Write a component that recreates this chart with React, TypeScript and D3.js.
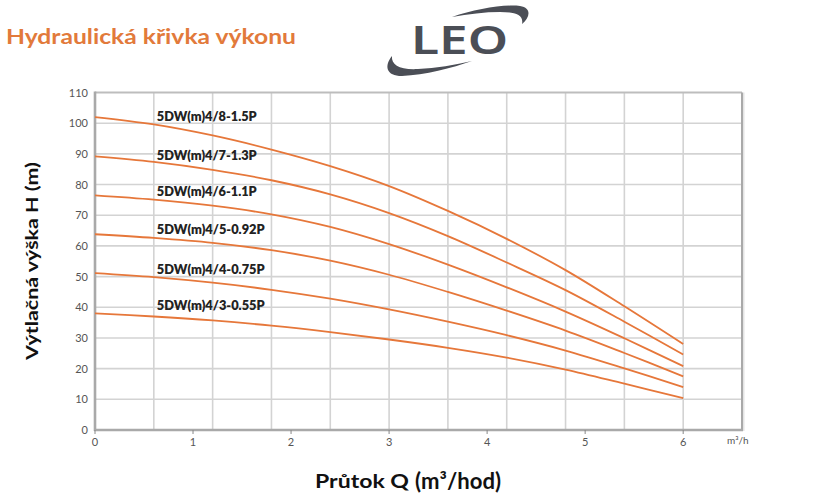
import React from "react";
import * as d3 from "d3";

const flowQ = [0, 0.6, 1.2, 1.8, 2.4, 3.0, 3.6, 4.2, 4.8, 5.4, 6.0];
const series = [
  { name: "5DW(m)4/8-1.5P", labelH: 102.3, values: [102, 99.6, 96, 91.4, 86, 79.5, 71.4, 62.3, 52.1, 40.3, 28] },
  { name: "5DW(m)4/7-1.3P", labelH: 89.6, values: [89.2, 87.4, 84.8, 81.4, 76.8, 70.7, 63.2, 54.6, 45.6, 35.3, 24.6] },
  { name: "5DW(m)4/6-1.1P", labelH: 77.7, values: [76.5, 75.1, 73.1, 70.3, 66.2, 60.6, 53.9, 46.5, 38.6, 29.9, 20.8] },
  { name: "5DW(m)4/5-0.92P", labelH: 65.2, values: [63.8, 62.6, 61.0, 58.6, 55.2, 50.6, 45.0, 38.9, 32.4, 25.1, 17.5] },
  { name: "5DW(m)4/4-0.75P", labelH: 52.4, values: [51.1, 49.8, 48.0, 45.7, 42.8, 39.3, 35.3, 30.9, 25.9, 20.1, 14] },
  { name: "5DW(m)4/3-0.55P", labelH: 40.5, values: [38, 37, 35.7, 34, 31.9, 29.5, 26.8, 23.6, 19.7, 15.1, 10.4] },
];
const xTicks = [0, 1, 2, 3, 4, 5, 6];
const yTicks = [0, 10, 20, 30, 40, 50, 60, 70, 80, 90, 100, 110];
const xGrid = [0.6, 1.2, 1.8, 2.4, 3.0, 3.6, 4.2, 4.8, 5.4, 6.0];
const yGrid = [10, 20, 30, 40, 50, 60, 70, 80, 90, 100];
const labelQ = 0.63;

const title = "Hydraulická křivka výkonu";
const yTitle = "Výtlačná výška H (m)";
const xTitleA = "Průtok Q";
const xTitleB = "(m³/hod)";
const unitLabel = "m³/h";

const ORANGE = "#e6773a";
const FONT = "Lato, 'Noto Sans', sans-serif";

export default function App() {
  const W = 835, H = 504;
  const x = d3.scaleLinear().domain([0, 6.6]).range([95, 742]);
  const y = d3.scaleLinear().domain([0, 110]).range([430, 92.5]);
  const line = d3
    .line<number>()
    .x((_, i) => x(flowQ[i]))
    .y((d) => y(d))
    .curve(d3.curveCatmullRom.alpha(0.5));

  return (
    <svg width={W} height={H} style={{ position: "absolute", left: 0, top: 0, background: "#fff" }} fontFamily={FONT}>
      <rect x={0} y={0} width={W} height={H} fill="#fff" />
      {/* title */}
      <text x={6} y={43.5} fontSize={21} fontWeight={700} fill="#e27a3b" textLength={290} lengthAdjust="spacingAndGlyphs">
        {title}
      </text>
      {/* logo */}
      <g fill="#4b4e56">
        <path d="M452,17 C475,9 505,4 520,6 C532,8 530,17 522,24 C524,15 515,12 500,12 C485,12 468,14 452,17 Z" />
        <path d="M472,61 C452,68 425,75 402,76 C386,76 384,66 392,56 C391,65 400,70 418,69 C436,68 455,65 472,61 Z" />
        <text x={411} y={54} fontSize={39} fontWeight={600} fontFamily="'Noto Sans', sans-serif" textLength={97} lengthAdjust="spacingAndGlyphs">
          LEO
        </text>
      </g>

      {/* grid */}
      {xGrid.map((g) => (
        <line key={"xg" + g} x1={x(g)} x2={x(g)} y1={y(0)} y2={y(110)} stroke="#d3d3d3" strokeWidth={1.6} />
      ))}
      {yGrid.map((g) => (
        <line key={"yg" + g} x1={x(0)} x2={x(6.6)} y1={y(g)} y2={y(g)} stroke="#d3d3d3" strokeWidth={1.6} />
      ))}
      {/* borders */}
      <line x1={x(0)} x2={x(6.6)} y1={y(110)} y2={y(110)} stroke="#bdbdbd" strokeWidth={2} />
      <line x1={x(6.6) + 1.5} x2={x(6.6) + 1.5} y1={y(110)} y2={y(0) + 1} stroke="#e4e4e4" strokeWidth={2} />
      <line x1={x(6.6)} x2={x(6.6)} y1={y(110)} y2={y(0)} stroke="#a9a9a9" strokeWidth={2} />
      <line x1={x(0)} x2={x(0)} y1={y(110) - 1} y2={y(0) + 1} stroke="#a9a9a9" strokeWidth={2.6} />
      <line x1={x(0) - 1} x2={x(6.6) + 1} y1={y(0)} y2={y(0)} stroke="#a9a9a9" strokeWidth={2.6} />

      {/* ticks */}
      {xTicks.map((t) => (
        <g key={"xt" + t}>
          <line x1={x(t)} x2={x(t)} y1={y(0)} y2={y(0) + 4} stroke="#888" strokeWidth={1} />
          <text x={x(t)} y={446} fontSize={11} fill="#555" textAnchor="middle">
            {t}
          </text>
        </g>
      ))}
      {yTicks.map((t) => (
        <text key={"yt" + t} x={88} y={y(t) + 4} fontSize={11} fill="#555" textAnchor="end">
          {t}
        </text>
      ))}
      <text x={727} y={444} fontSize={10} fill="#555">
        {unitLabel}
      </text>

      {/* curves */}
      {series.map((s) => (
        <path key={s.name} d={line(s.values) || ""} fill="none" stroke={ORANGE} strokeWidth={1.8} />
      ))}
      {series.map((s) => (
        <text
          key={"l" + s.name}
          x={x(labelQ)}
          y={y(s.labelH) + 4.5}
          fontSize={12.5}
          fontWeight={800}
          fill="#222"
          textLength={s.name.length > 14 ? 108 : 100}
          lengthAdjust="spacingAndGlyphs"
        >
          {s.name}
        </text>
      ))}

      {/* axis titles */}
      <text
        transform={`translate(38,${261}) rotate(-90)`}
        textAnchor="middle"
        fontSize={17}
        fontWeight={700}
        fill="#111"
        textLength={198}
        lengthAdjust="spacingAndGlyphs"
      >
        {yTitle}
      </text>
      <text x={315} y={488} fontWeight={700} fill="#111" fontSize={18} textLength={94} lengthAdjust="spacingAndGlyphs">
        {xTitleA}
      </text>
      <text x={415} y={488.5} fontWeight={700} fill="#111" fontSize={22} textLength={86} lengthAdjust="spacingAndGlyphs">
        {xTitleB}
      </text>
    </svg>
  );
}
